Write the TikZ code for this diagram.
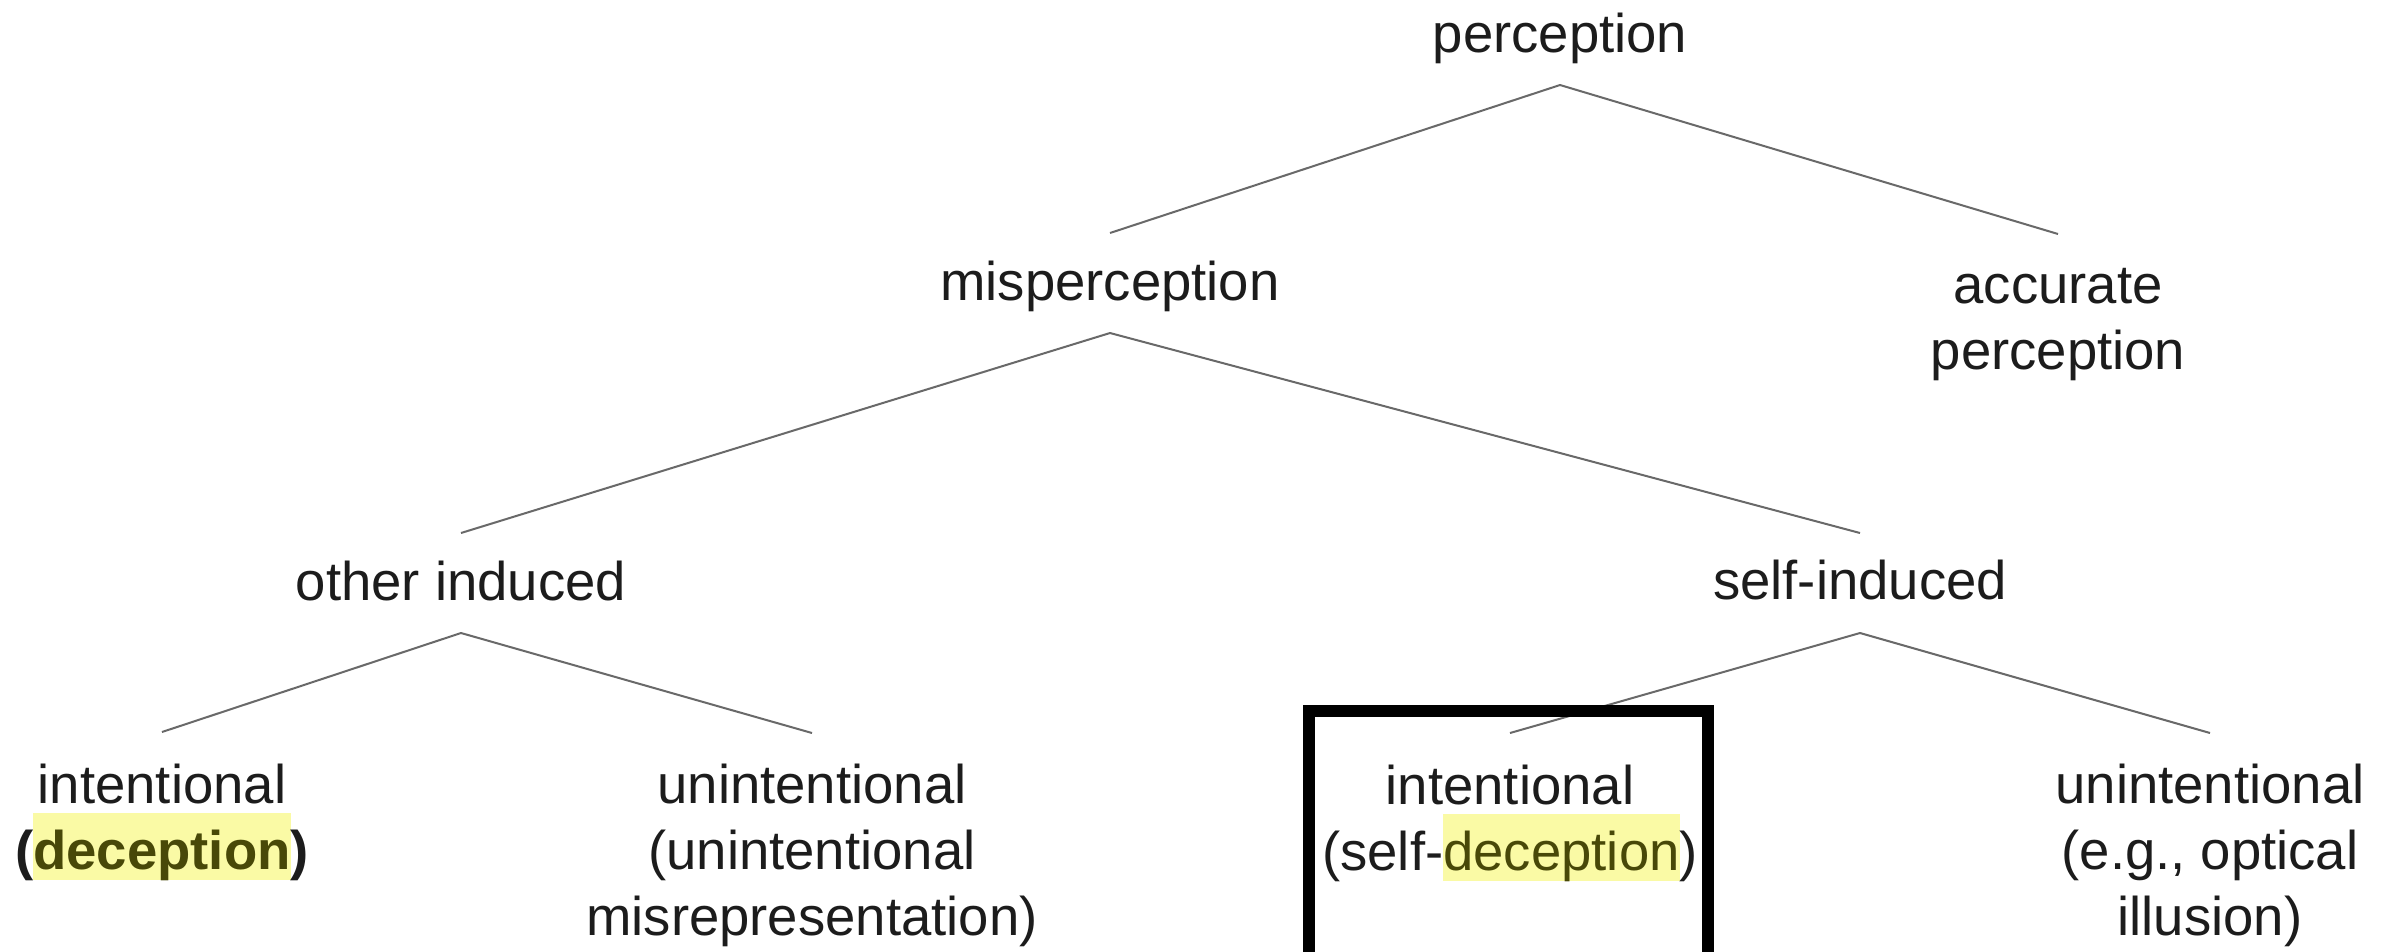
\documentclass[tikz,border=0pt]{standalone}
\usepackage{fontspec}
\setmainfont{Liberation Sans}
\definecolor{txtc}{RGB}{28,28,28}
\definecolor{edgec}{RGB}{105,105,105}
\definecolor{hlbg}{RGB}{250,250,165}
\definecolor{decol}{RGB}{72,72,8}
\newcommand\hlword[1]{{\setlength{\fboxsep}{0pt}\colorbox{hlbg}{\rule[-9pt]{0pt}{65pt}\color{decol}#1}}}
\begin{document}
\begin{tikzpicture}[x=1pt,y=-1pt,
  lbl/.style={font=\fontsize{54.5}{66}\selectfont, text=txtc, inner sep=0pt, align=center, anchor=base},
  branch/.style={draw=edgec, line width=2pt},
  frame/.style={draw=black, line width=12pt, line join=miter}]
\fill[white] (0,0) rectangle (2394,951);
\path[use as bounding box] (0,0) rectangle (2394,951);

% base anchor = baseline of the last line
\node[lbl] (perc) at (1560,52) {perception};
\node[lbl] (mis)  at (1110,300) {misperception};
\node[lbl] (acc)  at (2058,369) {accurate\\perception};
\node[lbl] (oth)  at (461,600) {other induced};
\node[lbl] (self) at (1860,599) {self-induced};
\node[lbl] (i1)   at (162,869) {intentional\\{\bfseries(\hlword{deception})}};
\node[lbl] (u1)   at (812,935) {unintentional\\(unintentional\\misrepresentation)};
\node[lbl] (i2)   at (1510,870) {intentional\\(self-\hlword{deception})};
\node[lbl] (u2)   at (2210,935) {unintentional\\(e.g., optical\\illusion)};

\draw[branch] ([yshift=-33pt]perc.base) -- ([yshift=67pt]mis.base);
\draw[branch] ([yshift=-33pt]perc.base) -- ([yshift=135pt]acc.base);
\draw[branch] ([yshift=-33pt]mis.base) -- ([yshift=67pt]oth.base);
\draw[branch] ([yshift=-33pt]mis.base) -- ([yshift=66pt]self.base);
\draw[branch] ([yshift=-33pt]oth.base) -- ([yshift=137pt]i1.base);
\draw[branch] ([yshift=-33pt]oth.base) -- ([yshift=202pt]u1.base);
\draw[branch] ([yshift=-34pt]self.base) -- ([yshift=137pt]i2.base);
\draw[branch] ([yshift=-34pt]self.base) -- ([yshift=202pt]u2.base);

\begin{scope}
\clip (0,0) rectangle (2394,951);
\draw[frame] (1309,990) -- (1309,711) -- (1708,711) -- (1708,990);
\end{scope}
\end{tikzpicture}
\end{document}
